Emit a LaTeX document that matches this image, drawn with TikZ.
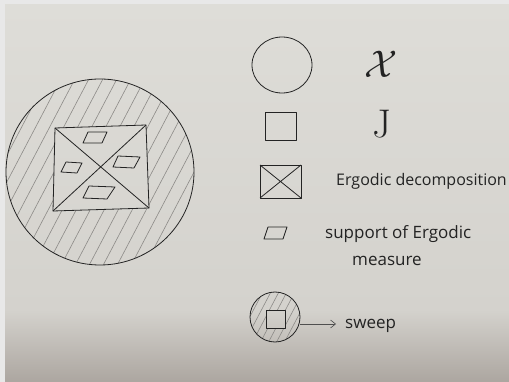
\documentclass[tikz,border=0pt]{standalone}
\usepackage{fontspec}
\newfontfamily\handfont{Open Sans}
\usetikzlibrary{arrows.meta}
\definecolor{border}{RGB}{232,232,232}
\definecolor{papertop}{RGB}{222,221,216}
\definecolor{papermid}{RGB}{212,210,205}
\definecolor{paperbot}{RGB}{172,166,160}
\definecolor{inkc}{RGB}{35,35,35}
\definecolor{hatchc}{RGB}{140,138,135}
\begin{document}
\begin{tikzpicture}[x=1pt,y=-1pt,
  ink/.style={draw=inkc, line width=0.8pt, line join=round},
  hatch/.style={draw=hatchc, line width=0.6pt},
  hand/.style={font=\handfont\fontsize{17}{20}\selectfont, text=inkc, inner sep=0pt, anchor=base west}]
\useasboundingbox (0,0) rectangle (509,382);
\fill[border] (0,0) rectangle (509,382);
\shade[top color=papertop, bottom color=papermid] (5,5) rectangle (509,310);
\shade[top color=papermid, bottom color=paperbot] (5,310) rectangle (509,382);
% big figure: hatching between circle and square
\begin{scope}[even odd rule]
  \clip (100,172) ellipse [x radius=94, y radius=93] (55,128) -- (146,125) -- (149,208) -- (53,211) -- cycle;
  \foreach \c in {-70,-56,...,230} \draw[hatch] (\c,275) -- ++(105,-200);
\end{scope}
\draw[ink] (100,172) ellipse [x radius=94, y radius=93];
\draw[ink] (55,128) coordinate (tl) -- (146,125) coordinate (tr) -- (149,208) coordinate (br) -- (53,211) coordinate (bl) -- cycle;
\draw[ink] (tl) -- (br) (tr) -- (bl);
% supports of ergodic measures
\draw[ink] (88,132) -- (107,132) -- (102,143) -- (83,143) -- cycle;
\draw[ink] (66,162) -- (82,163) -- (77,173) -- (61,172) -- cycle;
\draw[ink] (118,156) -- (140,157) -- (134,168) -- (113,167) -- cycle;
\draw[ink] (89,186) -- (115,187) -- (107,199) -- (83,198) -- cycle;
% legend
\draw[ink] (282,65) ellipse [x radius=30, y radius=28];
\node[text=inkc, inner sep=0pt, font=\Huge, scale=1.55] (lx) at (381,64) {$\mathcal{X}$};
\draw[ink] (265,112) rectangle (296,140);
\node[text=inkc, inner sep=0pt, font=\fontsize{40}{40}\selectfont] (lj) at (382,124) {$\mathrm{J}$};
\draw[ink] (260,165) rectangle (301,198);
\draw[ink] (260,165) -- (301,198) (301,165) -- (260,198);
\node[hand, font=\handfont\fontsize{16}{19}\selectfont] (led) at (336,186) {Ergodic decomposition};
\draw[ink] (268,227) -- (287,227) -- (283,239) -- (264,239) -- cycle;
\node[hand] (les) at (325,239) {support of Ergodic};
\node[hand] (lem) at (352,266) {measure};
% sweep
\begin{scope}[even odd rule]
  \clip (275,317) circle [radius=25] (266,310) rectangle (285,328);
  \foreach \c in {235,243,...,300} \draw[hatch] (\c,345) -- ++(30,-57);
\end{scope}
\node[ink, circle, minimum size=50pt, inner sep=0pt] (sw) at (275,317) {};
\draw[ink] (266,310) rectangle (285,328);
\node[hand] (swt) at (345,328) {sweep};
\coordinate (arrEnd) at ([xshift=-9pt]swt.west);
\draw[draw=inkc!80, line width=0.6pt, -{Straight Barb[length=5pt,width=8pt]}] (sw.east |- 0,324) -- (arrEnd |- 0,324);
\end{tikzpicture}
\end{document}
